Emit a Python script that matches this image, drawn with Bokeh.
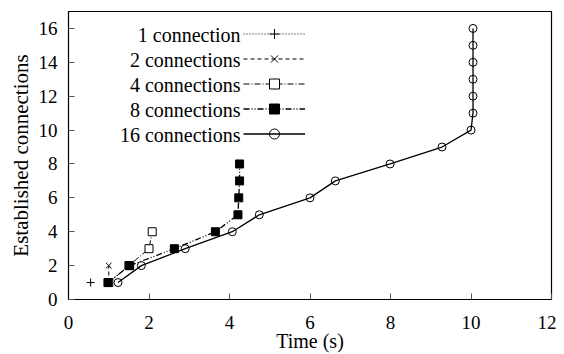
from bokeh.plotting import figure
from bokeh.models import Range1d, Legend, LegendItem, FixedTicker, Label
from bokeh.embed import file_html
from bokeh.resources import INLINE

# Data (time in s, established connections)
t1 = [0.55]
c1 = [1]
t2 = [1.0, 1.0]
c2 = [1, 2]
t4 = [1.0, 1.5, 2.0, 2.08]
c4 = [1, 2, 3, 4]
t8 = [0.98, 1.52, 2.63, 3.65, 4.21, 4.23, 4.25, 4.25]
c8 = [1, 2, 3, 4, 5, 6, 7, 8]
t16 = [1.23, 1.81, 2.9, 4.07, 4.74, 6.0, 6.63, 7.99, 9.28, 10.0, 10.05, 10.05, 10.05, 10.05, 10.05, 10.05]
c16 = list(range(1, 17))

labels = ["1 connection", "2 connections", "4 connections", "8 connections", "16 connections"]
x_ticks = [0, 2, 4, 6, 8, 10, 12]
y_ticks = [0, 2, 4, 6, 8, 10, 12, 14, 16]
x_title = "Time (s)"
y_title = "Established connections"

FONT = "Liberation Serif"
TICK_FS = "19px"
LEG_FS = "20px"

W, H = 556, 354
BL, BR, BT, BB = 68, 5, 11, 55

p = figure(width=W, height=H, output_backend="svg", toolbar_location=None,
           x_range=Range1d(0, 12), y_range=Range1d(0, 17),
           min_border_left=BL, min_border_right=BR, min_border_top=BT, min_border_bottom=BB)
p.grid.visible = False
p.outline_line_color = "black"
p.outline_line_width = 1.2
p.background_fill_color = "white"

for ax in (p.xaxis[0], p.yaxis[0]):
    ax.major_tick_in = 6
    ax.major_tick_out = 0
    ax.minor_tick_line_color = None
    ax.axis_line_color = "black"
    ax.major_tick_line_color = "#555555"
    ax.major_label_text_font = FONT
    ax.major_label_text_font_size = TICK_FS
    ax.major_label_text_color = "black"
    ax.axis_label_text_font = FONT
    ax.axis_label_text_font_style = "normal"
    ax.axis_label_text_color = "black"

p.xaxis.ticker = FixedTicker(ticks=x_ticks)
p.yaxis.ticker = FixedTicker(ticks=y_ticks)
p.xaxis.axis_label = x_title
p.yaxis.axis_label = y_title
p.xaxis.axis_label_text_font_size = LEG_FS
p.yaxis.axis_label_text_font_size = "21px"
p.xaxis.major_label_standoff = 16
p.xaxis.axis_label_standoff = -2
p.yaxis.major_label_standoff = 11
p.yaxis.axis_label_standoff = 3

styles = [
    dict(dash="1 2", marker="cross", size=8, fill=None, lw=1),
    dict(dash="4 3", marker="x", size=8, fill=None, lw=1),
    dict(dash="6 2 1 2", marker="square", size=8, fill="white", lw=1),
    dict(dash="6 2 1 2 1 2", marker="square", size=8, fill="black", lw=1.3),
    dict(dash="solid", marker="circle", size=8, fill=None, lw=1.3),
]
series = [(t1, c1), (t2, c2), (t4, c4), (t8, c8), (t16, c16)]

items = []
for (tx, cy), st in zip(series, styles):
    l = p.line(tx, cy, line_color="black", line_dash=st["dash"], line_width=st["lw"])
    m = p.scatter(tx, cy, marker=st["marker"], size=st["size"], line_color="black",
                  fill_color=st["fill"])
    items.append(LegendItem(label="", renderers=[l, m]))

legend = Legend(items=items, location=(175, 153), border_line_color=None,
                background_fill_alpha=0, label_text_font_size="1px",
                glyph_width=62, glyph_height=25, label_height=25, label_width=0,
                label_standoff=0, spacing=0, padding=0, margin=0)
p.add_layout(legend)

for i, lab in enumerate(labels):
    p.add_layout(Label(x=172, y=265 - 25 * i, x_units="screen", y_units="screen",
                       text=lab, text_align="right", text_baseline="middle",
                       text_font=FONT, text_font_size=LEG_FS, text_color="black"))

open("out.html", "w").write(file_html(p, INLINE))
